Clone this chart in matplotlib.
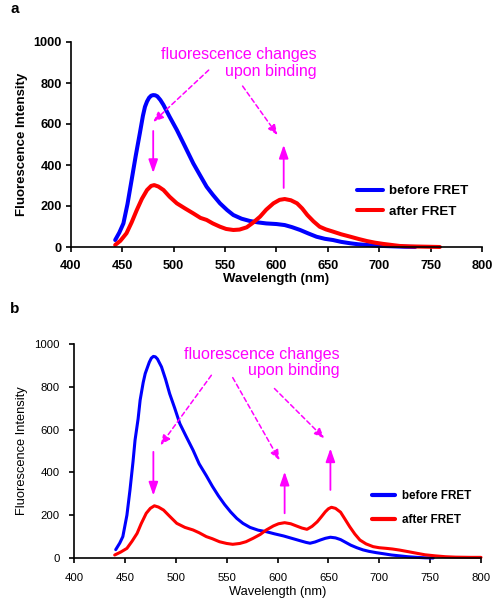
import matplotlib
matplotlib.use("Agg")
import matplotlib.pyplot as plt

plt.rcParams['font.family'] = ['Liberation Sans', 'DejaVu Sans']

# ---------------- Panel a data ----------------
a_before_x = [443, 447, 451, 455, 459, 463, 467, 470, 472, 474, 476, 478, 480, 482, 484, 487, 490,
              496, 503, 511, 519, 525, 532, 538, 545, 552, 558, 566, 574, 582, 590, 600, 608, 615,
              623, 631, 639, 647, 655, 663, 672, 680, 688, 696, 704, 715, 725, 735]
a_before_y = [34, 70, 115, 210, 327, 445, 555, 640, 684, 710, 728, 738, 741, 740, 735, 717, 693,
              635, 571, 490, 408, 355, 294, 255, 213, 180, 156, 138, 127, 120, 115, 112, 107, 97,
              83, 66, 50, 40, 34, 25, 18, 13, 10, 7, 5, 3, 1, 0]
a_after_x = [443, 448, 454, 459, 464, 469, 474, 478, 481, 485, 490, 496, 503, 511, 519, 526, 532,
             538, 545, 551, 558, 564, 571, 577, 584, 590, 597, 603, 608, 614, 620, 625, 630, 636,
             642, 648, 655, 663, 672, 680, 688, 696, 704, 712, 720, 730, 740, 750, 759]
a_after_y = [10, 30, 67, 120, 180, 235, 278, 298, 302, 295, 278, 245, 213, 188, 164, 142, 132,
             115, 99, 88, 83, 85, 96, 118, 148, 182, 213, 230, 234, 228, 213, 188, 156, 125,
             99, 86, 75, 62, 50, 39, 29, 21, 15, 10, 5, 3, 2, 1, 0]

# ---------------- Panel b data ----------------
b_before_x = [441, 445, 448, 452, 455, 458, 460, 463, 465, 468, 470, 474, 476, 478, 480, 482, 486,
              490, 494, 499, 504, 510, 517, 523, 530, 536, 542, 548, 554, 560, 566, 573, 581, 589,
              597, 606, 614, 622, 628, 632, 637, 642, 647, 652, 657, 662, 667, 672, 678, 684, 690,
              697, 704, 712, 720, 728, 737, 745, 753]
b_before_y = [39, 70, 100, 200, 317, 450, 551, 650, 738, 820, 862, 915, 934, 942, 940, 930, 893,
              835, 768, 700, 628, 570, 504, 440, 385, 335, 290, 250, 215, 185, 162, 143, 130, 123,
              113, 103, 92, 81, 73, 69, 75, 84, 92, 97, 94, 86, 73, 60, 48, 38, 31,
              25, 20, 14, 10, 6, 3, 1, 0]
b_after_x = [440, 446, 452, 457, 462, 466, 471, 475, 479, 483, 488, 494, 501, 509, 517, 523, 530,
             536, 543, 550, 556, 563, 569, 576, 583, 589, 596, 601, 607, 613, 619, 624, 629, 634,
             639, 643, 647, 650, 653, 657, 662, 666, 671, 676, 681, 687, 694, 700, 707, 713, 720,
             728, 737, 745, 755, 765, 775, 790, 800]
b_after_y = [14, 28, 45, 78, 115, 160, 209, 232, 244, 238, 224, 195, 162, 143, 131, 118, 100,
             90, 76, 68, 64, 68, 76, 92, 110, 131, 150, 160, 165, 160, 149, 140, 134, 148,
             169, 192, 216, 230, 237, 232, 214, 184, 146, 112, 84, 66, 53, 48, 45, 42, 37,
             30, 22, 15, 10, 6, 4, 3, 3]

x_ticks = [400, 450, 500, 550, 600, 650, 700, 750, 800]
y_ticks = [0, 200, 400, 600, 800, 1000]
legend_labels = ["before FRET", "after FRET"]
annotation_text = "fluorescence changes\nupon binding"

# arrows (tail -> head) in data coordinates
a_dashed = [((534, 863), (480, 610)), ((567, 785), (601, 546))]
a_solid = [((480, 566), (480, 361)), ((607, 288), (607, 498))]
b_dashed = [((535, 854), (485, 527)), ((556, 843), (602, 457)), ((597, 792), (646, 559))]
b_solid = [((478, 496), (478, 292)), ((607, 209), (607, 403)), ((652, 318), (652, 512))]

MAG = '#FF00FF'
BLUE = '#0000FF'
RED = '#FF0000'

W, H = 498, 600
fig = plt.figure(figsize=(W / 100, H / 100), dpi=100)


def px_axes(l, t, r, b):
    return fig.add_axes([l / W, 1 - b / H, (r - l) / W, (b - t) / H])


def style_axes(ax, bold, tick_fs, xpad, ypad):
    ax.set_xlim(400, 800)
    ax.set_ylim(0, 1000)
    ax.set_xticks(x_ticks)
    ax.set_yticks(y_ticks)
    for s in ['top', 'right']:
        ax.spines[s].set_visible(False)
    for s in ['left', 'bottom']:
        ax.spines[s].set_linewidth(1.2)
    ax.tick_params(direction='out', length=3.5, width=1.2, labelsize=tick_fs)
    ax.tick_params(axis='x', pad=xpad)
    ax.tick_params(axis='y', pad=ypad)
    wt = 'bold' if bold else 'normal'
    for lab in ax.get_xticklabels() + ax.get_yticklabels():
        lab.set_fontweight(wt)
    ax.set_facecolor('none')


def draw_arrows(ax, dashed, solid):
    for (t, h) in dashed:
        ax.annotate('', xy=h, xytext=t,
                    arrowprops=dict(arrowstyle='-|>,head_length=0.6,head_width=0.25', color=MAG,
                                    lw=1.1, linestyle=(0, (3, 2)), shrinkA=0, shrinkB=0))
    for (t, h) in solid:
        ax.annotate('', xy=h, xytext=t,
                    arrowprops=dict(arrowstyle='-|>,head_length=0.8,head_width=0.28', color=MAG,
                                    lw=1.3, shrinkA=0, shrinkB=0))


# ---------------- Panel a ----------------
ax1 = px_axes(71, 42, 482, 247)
style_axes(ax1, True, 9.2, 6.0, 3.0)
l1, = ax1.plot(a_before_x, a_before_y, color=BLUE, lw=2.9, solid_joinstyle='round',
               solid_capstyle='round', clip_on=False)
l2, = ax1.plot(a_after_x, a_after_y, color=RED, lw=2.9, solid_joinstyle='round',
               solid_capstyle='round', clip_on=False)
ax1.set_xlabel("Wavelength (nm)", fontsize=9.5, fontweight='bold', labelpad=0.5)
ax1.set_ylabel("Fluorescence Intensity", fontsize=9.5, fontweight='bold', labelpad=4)
ax1.text(639.5, 898, annotation_text, color=MAG, fontsize=11.5, ha='right', va='center',
         multialignment='right', linespacing=1.1)
draw_arrows(ax1, a_dashed, a_solid)
fig.legend([l1, l2], legend_labels, loc='upper left', bbox_to_anchor=(357 / W, 1 - 185 / H),
           bbox_transform=fig.transFigure, frameon=False, prop=dict(size=9.6, weight='bold'),
           handlelength=1.95, handletextpad=0.45, labelspacing=0.6, borderpad=0, borderaxespad=0)
fig.text(10 / W, 1 - 9 / H, 'a', fontsize=11, fontweight='bold', ha='left', va='center')

# ---------------- Panel b ----------------
ax2 = px_axes(74, 344, 481, 558)
style_axes(ax2, False, 8.2, 7.5, 7.0)
m1, = ax2.plot(b_before_x, b_before_y, color=BLUE, lw=2.2, solid_joinstyle='round',
               solid_capstyle='round', clip_on=False)
m2, = ax2.plot(b_after_x, b_after_y, color=RED, lw=2.2, solid_joinstyle='round',
               solid_capstyle='round', clip_on=False)
ax2.set_xlabel("Wavelength (nm)", fontsize=9.3, labelpad=2)
ax2.set_ylabel("Fluorescence Intensity", fontsize=9.3, labelpad=4)
ax2.text(661, 912, annotation_text, color=MAG, fontsize=11.5, ha='right', va='center',
         multialignment='right', linespacing=1.1)
draw_arrows(ax2, b_dashed, b_solid)
lg2 = fig.legend([m1, m2], legend_labels, loc='upper left', bbox_to_anchor=(372 / W, 1 - 490 / H),
                 bbox_transform=fig.transFigure, frameon=False, prop=dict(size=8.4, weight='bold'),
                 handlelength=2.0, handletextpad=0.55, labelspacing=1.05, borderpad=0, borderaxespad=0)
for ln in lg2.get_lines():
    ln.set_linewidth(3.0)
fig.text(10 / W, 1 - 309 / H, 'b', fontsize=11, fontweight='bold', ha='left', va='center')

fig.savefig('out.png', dpi=100)
